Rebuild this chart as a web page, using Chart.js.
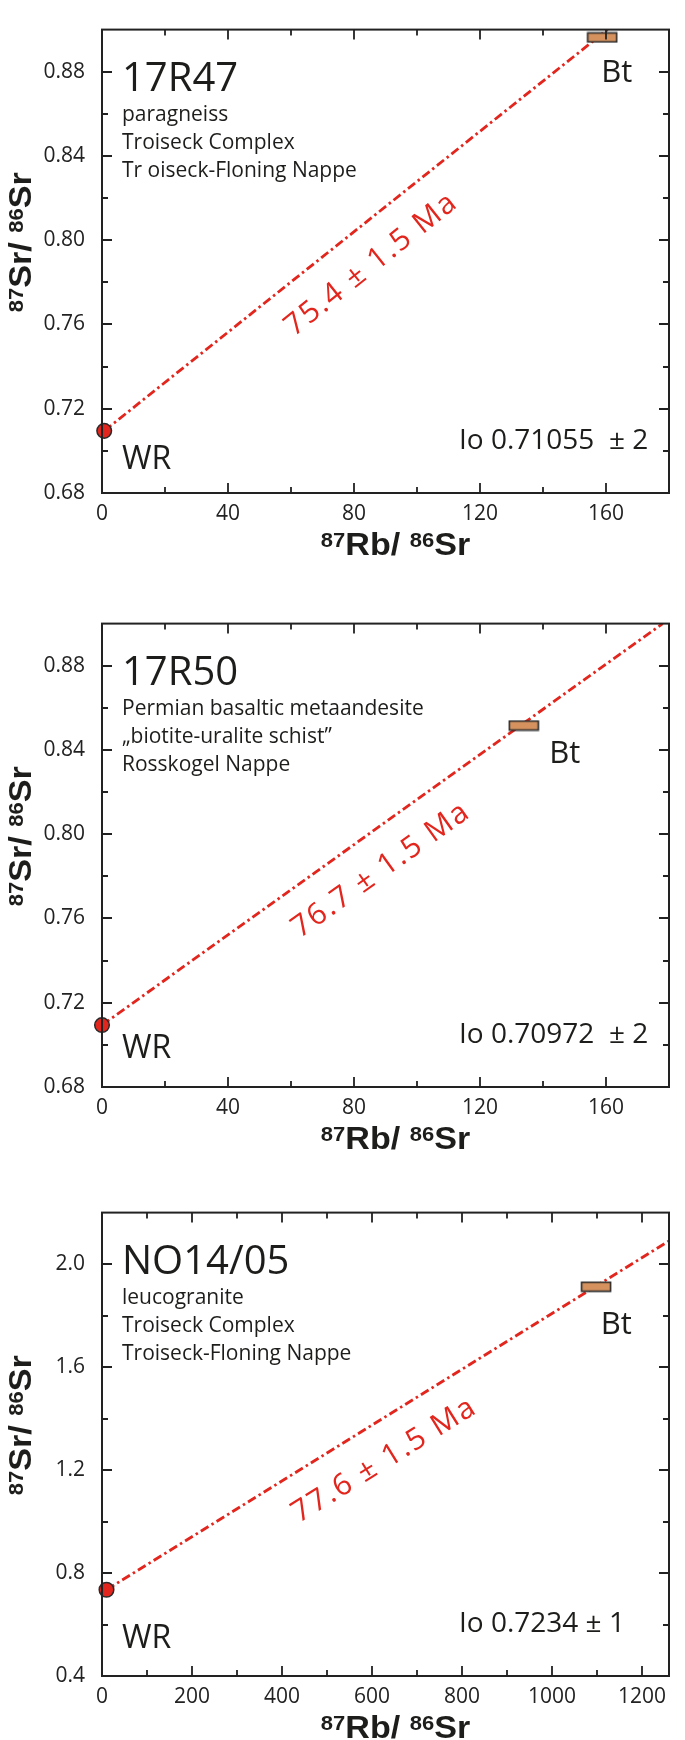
<!DOCTYPE html>
<html><head><meta charset="utf-8">
<script src="https://cdn.jsdelivr.net/npm/chart.js@4.4.1/dist/chart.umd.min.js"></script>
<style>
html,body{margin:0;padding:0;background:#fff;}
#wrap{position:relative;width:685px;height:1740px;overflow:hidden;background:#fff;}
canvas{position:absolute;left:0;}
</style></head><body>
<div id="wrap">
<canvas id="c0" width="685" height="594" style="top:0px"></canvas>
<canvas id="c1" width="685" height="589" style="top:594px"></canvas>
<canvas id="c2" width="685" height="557" style="top:1183px"></canvas>
</div>
<script>
// ---------- data ----------
const sampleNames = ['17R47', '17R50', 'NO14/05'];
const sampleNotes = [
  ['paragneiss', 'Troiseck Complex', 'Tr oiseck-Floning Nappe'],
  ['Permian basaltic metaandesite', '\u201Ebiotite-uralite schist\u201D', 'Rosskogel Nappe'],
  ['leucogranite', 'Troiseck Complex', 'Troiseck-Floning Nappe']
];
const ageLabels = ['75.4 \u00B1 1.5 Ma', '76.7 \u00B1 1.5 Ma', '77.6 \u00B1 1.5 Ma'];
const initialLabels = ['Io 0.71055  \u00B1 2', 'Io 0.70972  \u00B1 2', 'Io 0.7234 \u00B1 1'];
const wrName = 'WR';
const btName = 'Bt';

// whole rock points
const wrX = [0.7, 0, 10];
const wrY = [0.7095, 0.7094, 0.735];
// biotite points
const btX = [158.8, 133.9, 1098];
const btY = [0.8963, 0.8516, 1.912];
// isochron line end points
const lineX0 = [0.7, 0, 10];
const lineY0 = [0.7095, 0.7094, 0.735];
const lineX1 = [160.5, 178, 1260];
const lineY1 = [0.900, 0.900, 2.09];

// axes
const xMin = [0, 0, 0];
const xMax = [180, 180, 1260];
const xStep = [20, 20, 100];
const yMin = [0.68, 0.68, 0.4];
const yMax = [0.90, 0.90, 2.2];
const yStep = [0.02, 0.02, 0.2];
const xTickLabels = [
  ['0', '40', '80', '120', '160'],
  ['0', '40', '80', '120', '160'],
  ['0', '200', '400', '600', '800', '1000', '1200']
];
const yTickLabels = [
  ['0.68', '0.72', '0.76', '0.80', '0.84', '0.88'],
  ['0.68', '0.72', '0.76', '0.80', '0.84', '0.88'],
  ['0.4', '0.8', '1.2', '1.6', '2.0']
];
const xTitleSegs = [['87', true], ['Rb/ ', false], ['86', true], ['Sr', false]];
const yTitleSegs = [['87', true], ['Sr/ ', false], ['86', true], ['Sr', false]];

// ---------- layout / style ----------
const canvasHeights = [594, 589, 557];
const plotTop = 2, plotHeight = 491, plotLeft = 102, padRight = 3;
const RED = '#E2261D';
const INK = '#1d1d1b';
const AXIS = '#222222';
const ageAlong = [0.486, 0.46, 0.46];
const btLabelOffset = [[-1, 45], [25.5, 37], [4.7, 47.5]];
const wrLabelOffset = [-24, -29, -28];

function rectImage() {
  const c = document.createElement('canvas');
  c.width = 32; c.height = 12;
  const g = c.getContext('2d');
  g.fillStyle = '#D5925F';
  g.fillRect(1.5, 1.5, 29, 9);
  g.strokeStyle = '#2b2b2b';
  g.lineWidth = 1.6;
  g.strokeRect(1.5, 1.5, 29, 9);
  return c;
}
const btImg = rectImage();

function onStep(v, step) {
  const r = v / step;
  return Math.abs(r - Math.round(r)) < 1e-6;
}
function findLabel(list, v, step) {
  for (const s of list) if (Math.abs(parseFloat(s) - v) < step * 1e-3) return s;
  return '';
}
function stepTicks(min, max, step) {
  const out = [];
  const n = Math.floor((max - min) / step + 1e-9);
  for (let k = 0; k <= n; k++) out.push({ value: +(min + k * step).toFixed(6) });
  if (Math.abs(out[out.length - 1].value - max) > step * 1e-6) out.push({ value: max });
  return out;
}

function supText(ctx, segs, by, stretch) {
  const mainF = 'bold 31px "Liberation Sans"', supF = 'bold 20px "Liberation Sans"';
  const items = segs.map(s => ({ t: s[0], sup: s[1] }));
  let w = 0;
  items.forEach(s => { ctx.font = s.sup ? supF : mainF; s.w = ctx.measureText(s.t).width; w += s.w; });
  ctx.save();
  ctx.scale(stretch, 1);
  let x = -w / 2;
  ctx.textAlign = 'left';
  ctx.textBaseline = 'alphabetic';
  ctx.fillStyle = INK;
  items.forEach(s => {
    ctx.font = s.sup ? supF : mainF;
    ctx.fillText(s.t, x, by + (s.sup ? -8 : 0));
    x += s.w;
  });
  ctx.restore();
}

const panelPlugin = {
  id: 'panel',
  afterDraw(chart, args, o) {
    const i = o.i;
    const ctx = chart.ctx, a = chart.chartArea;
    const xs = chart.scales.x, ys = chart.scales.y;
    ctx.save();
    // frame
    ctx.strokeStyle = AXIS;
    ctx.lineWidth = 2;
    ctx.strokeRect(a.left, a.top, a.right - a.left, a.bottom - a.top);
    // inward ticks on all sides
    ctx.lineWidth = 1.8;
    ctx.beginPath();
    xs.ticks.forEach(t => {
      if (!onStep(t.value, xStep[i])) return;
      const px = Math.round(xs.getPixelForValue(t.value));
      if (px < a.left + 3 || px > a.right - 3) return;
      const len = t.label ? 10 : 6;
      ctx.moveTo(px, a.bottom); ctx.lineTo(px, a.bottom - len);
      ctx.moveTo(px, a.top); ctx.lineTo(px, a.top + len);
    });
    ys.ticks.forEach(t => {
      if (!onStep(t.value, yStep[i])) return;
      const py = Math.round(ys.getPixelForValue(t.value));
      if (py < a.top + 3 || py > a.bottom - 3) return;
      const len = t.label ? 10 : 6;
      ctx.moveTo(a.left, py); ctx.lineTo(a.left + len, py);
      ctx.moveTo(a.right, py); ctx.lineTo(a.right - len, py);
    });
    ctx.stroke();

    // sample title & notes
    ctx.fillStyle = INK;
    ctx.textAlign = 'left';
    ctx.textBaseline = 'alphabetic';
    ctx.font = '40px "Open Sans"';
    ctx.fillText(sampleNames[i], a.left + 20, a.top + 61);
    ctx.font = '21px "Open Sans"';
    [91, 119, 147].forEach((dy, k) => ctx.fillText(sampleNotes[i][k], a.left + 20, a.top + dy));

    // point labels
    const bx = xs.getPixelForValue(btX[i]), by = ys.getPixelForValue(btY[i]);
    ctx.font = '31px "Open Sans"';
    ctx.fillText(btName, bx + btLabelOffset[i][0], by + btLabelOffset[i][1]);
    ctx.font = '32px "Open Sans"';
    ctx.fillText(wrName, a.left + 20, a.bottom + wrLabelOffset[i]);

    // initial ratio
    ctx.font = '28px "Open Sans"';
    ctx.fillText(initialLabels[i], a.left + 357, a.bottom - 44);

    // age label along the isochron
    const p0x = xs.getPixelForValue(lineX0[i]), p0y = ys.getPixelForValue(lineY0[i]);
    const p1x = xs.getPixelForValue(lineX1[i]), p1y = ys.getPixelForValue(lineY1[i]);
    const ang = Math.atan2(p1y - p0y, p1x - p0x);
    const f = ageAlong[i];
    ctx.save();
    ctx.translate(p0x + f * (p1x - p0x), p0y + f * (p1y - p0y));
    ctx.rotate(ang);
    ctx.font = '30px "Open Sans"';
    try { ctx.letterSpacing = '2px'; } catch (e) {}
    ctx.fillStyle = RED;
    ctx.textAlign = 'center';
    ctx.fillText(ageLabels[i], 0, 45);
    ctx.restore();

    // axis titles
    ctx.save();
    ctx.translate((a.left + a.right) / 2 + 10, 0);
    supText(ctx, xTitleSegs, a.bottom + 62, 1.1);
    ctx.restore();
    ctx.save();
    ctx.translate(31, (a.top + a.bottom) / 2 - 19);
    ctx.rotate(-Math.PI / 2);
    supText(ctx, yTitleSegs, 0, 1.1);
    ctx.restore();

    ctx.restore();
  }
};

function makeChart(i) {
  const H = canvasHeights[i];
  const tickFont = { family: '"Open Sans"', size: 21 };
  return new Chart(document.getElementById('c' + i), {
    type: 'scatter',
    data: {
      datasets: [
        { label: wrName, data: [{ x: wrX[i], y: wrY[i] }], pointStyle: 'circle', pointRadius: 7.3,
          backgroundColor: RED, borderColor: '#2a2a2a', borderWidth: 1.5, clip: false, order: 1 },
        { label: btName, data: [{ x: btX[i], y: btY[i] }], pointStyle: btImg, pointRadius: 15,
          clip: false, order: 2 },
        { label: 'isochron', data: [{ x: lineX0[i], y: lineY0[i] }, { x: lineX1[i], y: lineY1[i] }],
          showLine: true, pointRadius: 0, borderColor: RED, borderWidth: 2.8,
          borderDash: [9, 3.5, 2.5, 3.5], fill: false, order: 3 }
      ]
    },
    options: {
      responsive: false,
      animation: false,
      devicePixelRatio: 1,
      events: [],
      layout: { padding: { top: plotTop, right: padRight, left: 0, bottom: 0 } },
      plugins: { legend: { display: false }, tooltip: { enabled: false }, panel: { i } },
      scales: {
        x: {
          type: 'linear', position: 'bottom', min: xMin[i], max: xMax[i],
          grid: { display: false, drawTicks: false },
          border: { display: false },
          ticks: { autoSkip: false, maxRotation: 0, padding: 8,
                   font: tickFont, color: AXIS,
                   callback: v => findLabel(xTickLabels[i], v, xStep[i]) },
          afterBuildTicks: s => { s.ticks = stepTicks(xMin[i], xMax[i], xStep[i]); },
          afterFit: s => { s.height = H - plotTop - plotHeight; }
        },
        y: {
          type: 'linear', position: 'left', min: yMin[i], max: yMax[i],
          grid: { display: false, drawTicks: false },
          border: { display: false },
          ticks: { autoSkip: false, padding: 17,
                   font: tickFont, color: AXIS,
                   callback: v => findLabel(yTickLabels[i], v, yStep[i]) },
          afterBuildTicks: s => { s.ticks = stepTicks(yMin[i], yMax[i], yStep[i]); },
          afterFit: s => { s.width = plotLeft; }
        }
      }
    },
    plugins: [panelPlugin]
  });
}
[0, 1, 2].forEach(makeChart);
</script>
</body></html>
